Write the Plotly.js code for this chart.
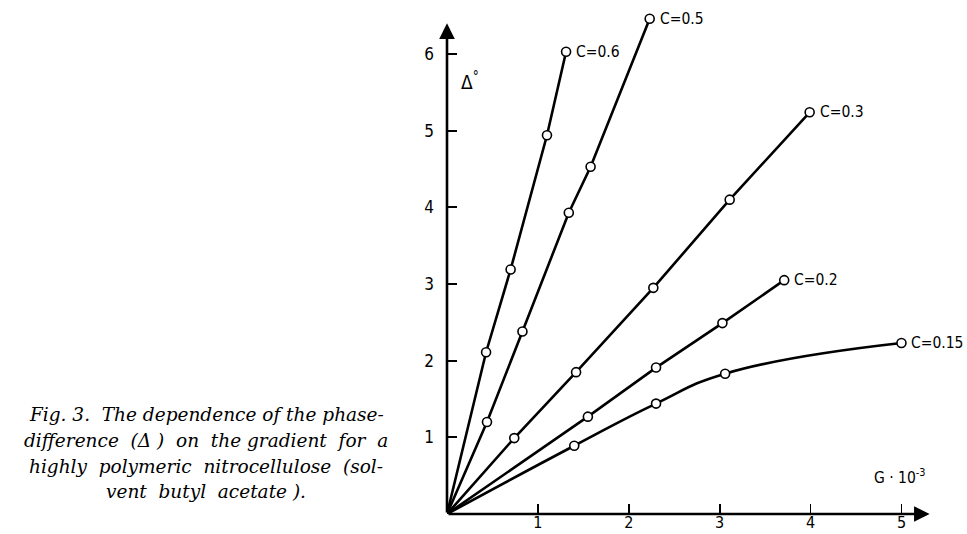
<!DOCTYPE html>
<html><head><meta charset="utf-8">
<script src="https://cdn.plot.ly/plotly-3.0.1.min.js"></script>
<style>html,body{margin:0;padding:0;background:#fff;}#chart{width:967px;height:534px;}</style>
</head><body><div id="chart"></div>
<script>
// Data (G in units of 10^-3, Δ in degrees)
const c06_x = [0, 0.43, 0.70, 1.10, 1.31];
const c06_y = [0, 2.11, 3.19, 4.94, 6.03];
const c05_x = [0, 0.44, 0.83, 1.34, 1.58, 2.23];
const c05_y = [0, 1.20, 2.38, 3.93, 4.53, 6.46];
const c03_x = [0, 0.74, 1.42, 2.27, 3.11, 3.99];
const c03_y = [0, 0.99, 1.85, 2.95, 4.10, 5.24];
const c02_x = [0, 1.55, 2.30, 3.03, 3.71];
const c02_y = [0, 1.27, 1.91, 2.49, 3.05];
const c015_x = [0, 1.40, 2.30, 3.06, 5.00];
const c015_y = [0, 0.89, 1.44, 1.83, 2.23];
const seriesNames = ["C=0.6", "C=0.5", "C=0.3", "C=0.2", "C=0.15"];
const xTicks = [1, 2, 3, 4, 5];
const yTicks = [1, 2, 3, 4, 5, 6];
const captionLines = [
  "Fig. 3.  The dependence of the phase-",
  "difference  (Δ )  on  the gradient  for  a",
  "highly  polymeric  nitrocellulose  (sol-",
  "vent  butyl  acetate )."
];

const xs = [c06_x, c05_x, c03_x, c02_x, c015_x];
const ys = [c06_y, c05_y, c03_y, c02_y, c015_y];
const shapes = ["linear", "linear", "linear", "linear", "spline"];

const traces = xs.map((x, i) => ({
  x: x, y: ys[i], type: "scatter", mode: "lines",
  name: seriesNames[i], cliponaxis: false,
  line: {color: "#000", width: 2.6, shape: shapes[i], smoothing: 1.3}
}));
xs.forEach((x, i) => {
  traces.push({
    x: x.slice(1), y: ys[i].slice(1), type: "scatter", mode: "markers",
    cliponaxis: false, showlegend: false, hoverinfo: "skip",
    marker: {symbol: "circle", size: 9, color: "#fff", line: {color: "#000", width: 1.6}}
  });
});

const narrow = "DejaVu Sans Condensed, DejaVu Sans, sans-serif";
const labelFont = {family: narrow, size: 15.5, color: "#000"};
const annotations = seriesNames.map((n, i) => ({
  x: xs[i][xs[i].length - 1], y: ys[i][ys[i].length - 1], xref: "x", yref: "y",
  text: n, showarrow: false, xanchor: "left", yanchor: "middle", xshift: 8, font: labelFont
}));
// axis lines with arrowheads
annotations.push({x: 0, y: 6.4, xref: "x", yref: "y", ax: 0, ay: 0, axref: "x", ayref: "y",
  showarrow: true, arrowhead: 2, arrowsize: 1.2, arrowwidth: 2.6, arrowcolor: "#000", text: ""});
annotations.push({x: 5.31, y: 0, xref: "x", yref: "y", ax: 0, ay: 0, axref: "x", ayref: "y",
  showarrow: true, arrowhead: 2, arrowsize: 1.2, arrowwidth: 2.6, arrowcolor: "#000", text: ""});
// axis titles
annotations.push({x: 0.25, y: 5.65, xref: "x", yref: "y", text: "Δ<sup>°</sup>", showarrow: false,
  font: {family: narrow, size: 19, color: "#000"}});
annotations.push({x: 4.98, y: 0.49, xref: "x", yref: "y", text: "G · 10<sup>-3</sup>", showarrow: false,
  font: labelFont});
// caption (paper coords relative to plot area)
const plotL = 447, plotW = 5.6 * 90.9, plotB = 514.5, plotH = 6.6 * 76.8;
const capY = [415, 441, 467, 492];
captionLines.forEach((t, i) => {
  annotations.push({x: (206 - plotL) / plotW, y: (plotB - capY[i]) / plotH, xref: "paper", yref: "paper",
    text: "<i>" + t + "</i>", showarrow: false, xanchor: "center", yanchor: "middle",
    font: {family: "DejaVu Serif, serif", size: 18.5, color: "#000"}});
});

const layout = {
  width: 967, height: 534,
  margin: {l: plotL, r: 967 - plotL - plotW, t: plotB - plotH, b: 534 - plotB, pad: 0},
  paper_bgcolor: "#fff", plot_bgcolor: "#fff",
  showlegend: false,
  xaxis: {range: [0, 5.6], tickvals: xTicks, ticktext: xTicks.map(String), ticks: "inside", ticklen: 10,
    tickwidth: 1.8, tickcolor: "#000", showline: false, showgrid: false, zeroline: false,
    tickfont: {family: narrow, size: 16, color: "#000"}, ticklabelstandoff: -3},
  yaxis: {range: [0, 6.6], tickvals: yTicks, ticktext: yTicks.map(String), ticks: "inside", ticklen: 10,
    tickwidth: 1.8, tickcolor: "#000", showline: false, showgrid: false, zeroline: false,
    tickfont: {family: narrow, size: 17, color: "#000"}, ticklabelstandoff: 12},
  annotations: annotations
};
Plotly.newPlot("chart", traces, layout, {displayModeBar: false, staticPlot: true});
</script></body></html>
